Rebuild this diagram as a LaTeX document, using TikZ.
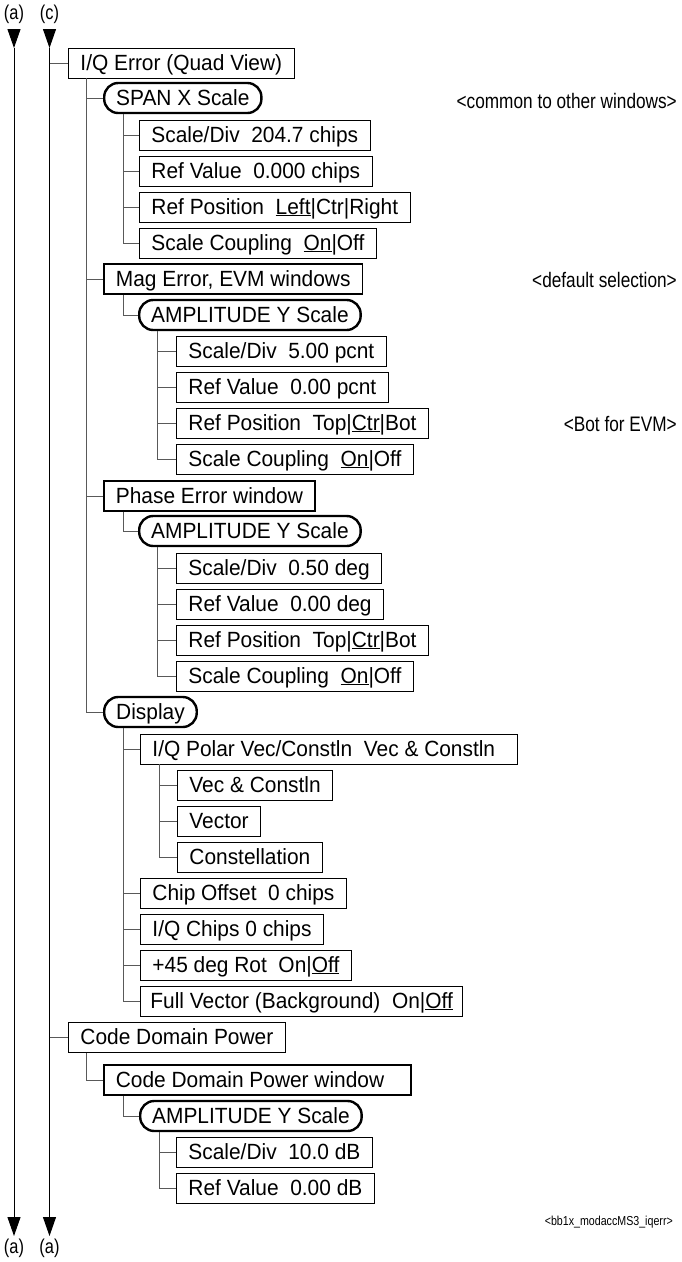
\documentclass[tikz,border=0pt]{standalone}
\usepackage{fontspec}
\setmainfont{Liberation Sans}[FakeStretch=0.95]
\newfontfamily\narrowfont{Liberation Sans}[FakeStretch=0.82]
\usetikzlibrary{arrows.meta}
\begin{document}
\begin{tikzpicture}[x=1pt,y=-1pt,
  box/.style={draw=black, line width=0.9pt, anchor=west, inner xsep=12pt, inner ysep=0pt,
    minimum height=30pt, text height=17pt, text depth=3pt, font=\fontsize{22}{26}\selectfont},
  mbox/.style={box, line width=1.8pt},
  rbox/.style={box, line width=2.4pt, rounded corners=14pt},
  conn/.style={draw=black!65, line width=0.9pt},
  mainline/.style={draw=black, line width=1pt},
  tipline/.style={mainline, -{Triangle[length=19pt,width=13pt]}},
  lbl/.style={font=\narrowfont\fontsize{20}{22}\selectfont, inner sep=0pt},
  note/.style={font=\narrowfont\fontsize{21}{24}\selectfont, inner sep=0pt, anchor=east},
  tag/.style={font=\narrowfont\fontsize{13}{15}\selectfont, inner sep=0pt, anchor=east}]
\useasboundingbox (0,0) rectangle (682,1262);

% side lines
\node[lbl] (la) at (14,14) {(a)};
\node[lbl] (lc) at (49.5,14) {(c)};
\node[lbl] (ba) at (14,1248) {(a)};
\node[lbl] (bc) at (49.5,1248) {(a)};
\coordinate (a0) at (14,29);
\coordinate (a1) at (14,48);
\coordinate (a2) at (14,1236);
\coordinate (c0) at (49.5,29);
\coordinate (c1) at (49.5,48);
\coordinate (c2) at (49.5,1236);
\draw[tipline] (a0) -- (a1);
\draw[tipline] (a1) -- (a2);
\draw[tipline] (c0) -- (c1);
\draw[tipline] (c1) -- (c2);

% nodes
\node[box] (iq) at (68,63) {I/Q Error (Quad View)};
\node[rbox] (span) at (103,98) {SPAN X Scale};
\node[box] (s1) at (139,135) {Scale/Div~~204.7 chips};
\node[box] (s2) at (139,171) {Ref Value~~0.000 chips};
\node[box] (s3) at (139,207) {Ref Position~~\underline{Left}|Ctr|Right};
\node[box] (s4) at (139,243) {Scale Coupling~~\underline{On}|Off};
\node[mbox] (mag) at (103,279) {Mag Error, EVM windows};
\node[rbox] (amp1) at (138,315) {AMPLITUDE Y Scale};
\node[box] (m1) at (176,351) {Scale/Div~~5.00 pcnt};
\node[box] (m2) at (176,387) {Ref Value~~0.00 pcnt};
\node[box] (m3) at (176,423) {Ref Position~~Top|\underline{Ctr}|Bot};
\node[box] (m4) at (176,459) {Scale Coupling~~\underline{On}|Off};
\node[mbox] (ph) at (103,496) {Phase Error window};
\node[rbox] (amp2) at (138,531) {AMPLITUDE Y Scale};
\node[box] (p1) at (176,568) {Scale/Div~~0.50 deg};
\node[box] (p2) at (176,604) {Ref Value~~0.00 deg};
\node[box] (p3) at (176,640) {Ref Position~~Top|\underline{Ctr}|Bot};
\node[box] (p4) at (176,676) {Scale Coupling~~\underline{On}|Off};
\node[rbox] (disp) at (103,712) {Display};
\node[box] (d1) at (140,749) {\makebox[353pt][l]{I/Q Polar Vec/Constln~~Vec \& Constln}};
\node[box] (d1a) at (177,785) {Vec \& Constln};
\node[box] (d1b) at (177,821) {Vector};
\node[box] (d1c) at (177,857) {Constellation};
\node[box] (d2) at (140,893) {Chip Offset~~0 chips};
\node[box] (d3) at (140,929) {I/Q Chips 0 chips};
\node[box] (d4) at (140,965) {+45 deg Rot~~On|\underline{Off}};
\node[box, inner xsep=10pt] (d5) at (140,1001) {Full Vector (Background)~~On|\underline{Off}};
\node[box] (cdp) at (68,1037.5) {Code Domain Power};
\node[mbox] (cdpw) at (103,1080) {\makebox[283pt][l]{Code Domain Power window}};
\node[rbox] (amp3) at (139,1116) {AMPLITUDE Y Scale};
\node[box] (c1x) at (176,1152) {Scale/Div~~10.0 dB};
\node[box] (c2x) at (176,1188) {Ref Value~~0.00 dB};

% notes
\node[note] (n1) at (677,101) {<common to other windows>};
\node[note] (n2) at (677,280) {<default selection>};
\node[note] (n3) at (677,424) {<Bot for EVM>};
\node[tag] (n4) at (673,1222) {<bb1x\_modaccMS3\_iqerr>};

% connectors
\draw[conn] (c1 |- iq.west) -- (iq.west);
\draw[conn] (c1 |- cdp.west) -- (cdp.west);
\foreach \c in {span,mag,ph,disp} \draw[conn] ([xshift=18pt]iq.south west) |- (\c.west);
\foreach \c in {s1,s2,s3,s4} \draw[conn] ([xshift=20pt]span.south west) |- (\c.west);
\draw[conn] ([xshift=20pt]mag.south west) |- (amp1.west);
\foreach \c in {m1,m2,m3,m4} \draw[conn] ([xshift=19pt]amp1.south west) |- (\c.west);
\draw[conn] ([xshift=20pt]ph.south west) |- (amp2.west);
\foreach \c in {p1,p2,p3,p4} \draw[conn] ([xshift=19pt]amp2.south west) |- (\c.west);
\foreach \c in {d1,d2,d3,d4,d5} \draw[conn] ([xshift=20pt]disp.south west) |- (\c.west);
\foreach \c in {d1a,d1b,d1c} \draw[conn] ([xshift=19pt]d1.south west) |- (\c.west);
\draw[conn] ([xshift=18pt]cdp.south west) |- (cdpw.west);
\draw[conn] ([xshift=20pt]cdpw.south west) |- (amp3.west);
\foreach \c in {c1x,c2x} \draw[conn] ([xshift=20pt]amp3.south west) |- (\c.west);
\end{tikzpicture}
\end{document}
